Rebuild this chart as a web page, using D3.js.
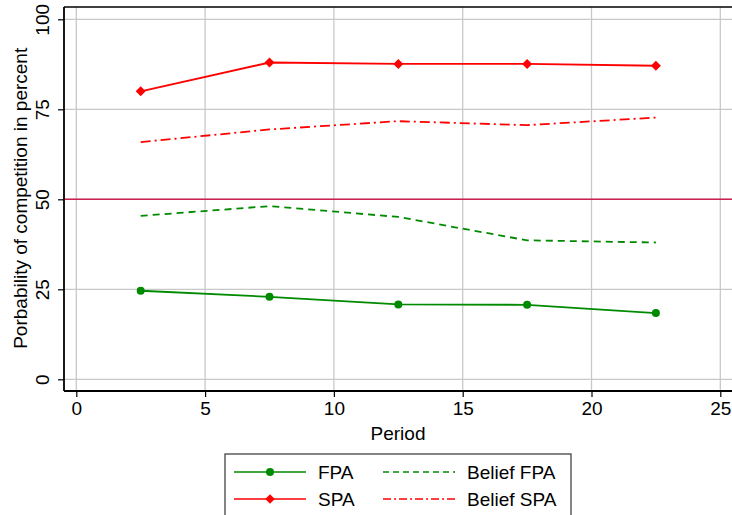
<!DOCTYPE html>
<html>
<head>
<meta charset="utf-8">
<script src="https://cdn.jsdelivr.net/npm/d3@7"></script>
<style>
  html, body { margin: 0; padding: 0; background: #fff; }
  svg { display: block; font-family: "Liberation Sans", Arial, Helvetica, sans-serif; }
</style>
</head>
<body>
<svg id="chart" width="732" height="515"></svg>
<script>
// Periods (midpoints of 5-period blocks)
const periods = [2.5, 7.5, 12.5, 17.5, 22.5];
// Share choosing competition, in percent
const fpa = [24.6, 22.9, 20.8, 20.7, 18.4];
const spa = [80.0, 88.0, 87.6, 87.6, 87.1];
const beliefFpa = [45.4, 48.1, 45.1, 38.6, 38.0];
const beliefSpa = [65.9, 69.4, 71.7, 70.6, 72.7];
const xTicks = [0, 5, 10, 15, 20, 25];
const yTicks = [0, 25, 50, 75, 100];
const refLine = 50;

const svg = d3.select("#chart");
const green = "#008a00", red = "#ff0000";
const fs = 19;

const x = d3.scaleLinear().domain([0, 25]).range([76.3, 720.3]);
const y = d3.scaleLinear().domain([0, 100]).range([379.3, 19.3]);

const plotLeft = 64, plotTop = 7, plotBottom = 391, plotRight = 740;

// grid
const g = svg.append("g");
g.selectAll(".vg").data(xTicks).join("line")
  .attr("x1", d => x(d)).attr("x2", d => x(d))
  .attr("y1", plotTop).attr("y2", plotBottom)
  .attr("stroke", "#c8c8c8").attr("stroke-width", 1.3);
g.selectAll(".hg").data(yTicks).join("line")
  .attr("x1", plotLeft).attr("x2", plotRight)
  .attr("y1", d => y(d)).attr("y2", d => y(d))
  .attr("stroke", "#c8c8c8").attr("stroke-width", 1.3);

// reference line at 50 percent
svg.append("line")
  .attr("x1", plotLeft).attr("x2", plotRight)
  .attr("y1", y(refLine)).attr("y2", y(refLine))
  .attr("stroke", "#cc2050").attr("stroke-width", 1.6);

// frame: top border
svg.append("line").attr("x1", plotLeft).attr("x2", plotRight).attr("y1", plotTop).attr("y2", plotTop)
  .attr("stroke", "#000").attr("stroke-width", 1.5);

// axes
const xAxis = d3.axisBottom(x).tickValues(xTicks).tickSize(6).tickPadding(5).tickFormat(d3.format("d"));
const xa = svg.append("g").attr("transform", `translate(0,${plotBottom})`).call(xAxis);
xa.select(".domain").attr("d", `M${plotLeft},0H${plotRight}`).attr("stroke", "#000").attr("stroke-width", 1.8);
xa.selectAll(".tick line").attr("stroke", "#000").attr("stroke-width", 1.2);
xa.selectAll(".tick text").attr("font-size", fs).attr("fill", "#000")
  .attr("font-family", "Liberation Sans, Arial, sans-serif");

const yAxis = d3.axisLeft(y).tickValues(yTicks).tickSize(6).tickPadding(0).tickFormat(d3.format("d"));
const ya = svg.append("g").attr("transform", `translate(${plotLeft},0)`).call(yAxis);
ya.select(".domain").attr("d", `M0,${plotTop}V${plotBottom}`).attr("stroke", "#000").attr("stroke-width", 1.8);
ya.selectAll(".tick line").attr("stroke", "#000").attr("stroke-width", 1.2);
ya.selectAll(".tick text")
  .attr("font-size", fs).attr("fill", "#000")
  .attr("font-family", "Liberation Sans, Arial, sans-serif")
  .attr("x", null).attr("dy", null)
  .attr("text-anchor", "middle")
  .attr("transform", "translate(-15,0) rotate(-90)");

// axis titles
svg.append("text").attr("x", 398).attr("y", 440).attr("text-anchor", "middle")
  .attr("font-size", fs).text("Period");
svg.append("text").attr("transform", `translate(27,${y(50) - 1}) rotate(-90)`)
  .attr("text-anchor", "middle").attr("font-size", fs)
  .text("Porbability of competition in percent");

// series
const line = d3.line().x(d => x(d[0])).y(d => y(d[1]));
const series = [
  { name: "FPA", vals: fpa, color: green, dash: null, marker: "circle" },
  { name: "SPA", vals: spa, color: red, dash: null, marker: "diamond" },
  { name: "Belief FPA", vals: beliefFpa, color: green, dash: "7,5", marker: null },
  { name: "Belief SPA", vals: beliefSpa, color: red, dash: "10,4,2,4", marker: null }
];
series.forEach(s => {
  const pts = periods.map((p, i) => [p, s.vals[i]]);
  svg.append("path").attr("d", line(pts)).attr("fill", "none")
    .attr("stroke", s.color).attr("stroke-width", 1.8)
    .attr("stroke-dasharray", s.dash);
  if (s.marker === "circle") {
    svg.append("g").selectAll("circle").data(pts).join("circle")
      .attr("cx", d => x(d[0])).attr("cy", d => y(d[1])).attr("r", 4).attr("fill", s.color);
  } else if (s.marker === "diamond") {
    svg.append("g").selectAll("path").data(pts).join("path")
      .attr("d", d3.symbol(d3.symbolSquare, 50))
      .attr("transform", d => `translate(${x(d[0])},${y(d[1])}) rotate(45)`)
      .attr("fill", s.color);
  }
});

// legend
const lg = svg.append("g");
lg.append("rect").attr("x", 225).attr("y", 454).attr("width", 346).attr("height", 80)
  .attr("fill", "#fff").attr("stroke", "#444").attr("stroke-width", 1.3);
const legendPos = [
  { s: series[0], lx: 234, ly: 472, tx: 318 },
  { s: series[1], lx: 234, ly: 499, tx: 318 },
  { s: series[2], lx: 383, ly: 472, tx: 467 },
  { s: series[3], lx: 383, ly: 499, tx: 467 }
];
legendPos.forEach(p => {
  lg.append("line").attr("x1", p.lx).attr("x2", p.lx + 72).attr("y1", p.ly).attr("y2", p.ly)
    .attr("stroke", p.s.color).attr("stroke-width", 1.6)
    .attr("stroke-dasharray", p.s.dash ? (p.s.name === "Belief FPA" ? "6,4" : "8,3,2,3") : null);
  if (p.s.marker === "circle") {
    lg.append("circle").attr("cx", p.lx + 36).attr("cy", p.ly).attr("r", 4).attr("fill", p.s.color);
  } else if (p.s.marker === "diamond") {
    lg.append("path").attr("d", d3.symbol(d3.symbolSquare, 45))
      .attr("transform", `translate(${p.lx + 36},${p.ly}) rotate(45)`).attr("fill", p.s.color);
  }
  lg.append("text").attr("x", p.tx).attr("y", p.ly + 7).attr("font-size", fs).text(p.s.name);
});
</script>
</body>
</html>
